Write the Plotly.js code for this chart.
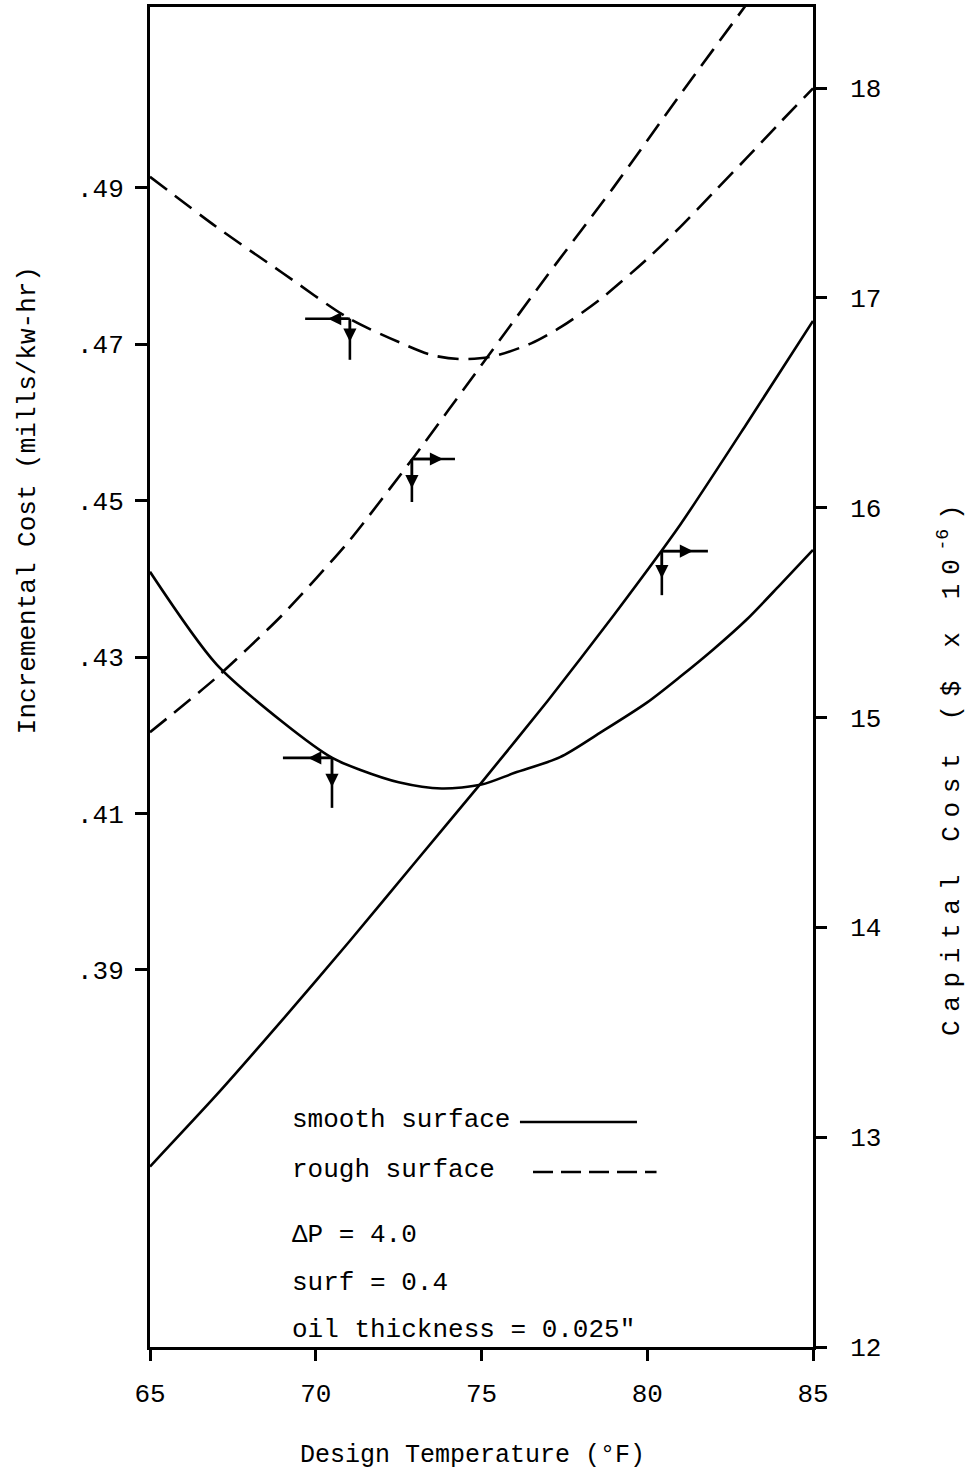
<!DOCTYPE html>
<html><head><meta charset="utf-8">
<script src="https://cdn.plot.ly/plotly-3.0.1.min.js"></script>
<style>html,body{margin:0;padding:0;background:#fff}</style>
</head><body><div id="chart" style="width:971px;height:1473px"></div>
<script>
// ---- data ----
const tempRoughU   = [65, 67, 69, 71, 72.54, 73.5, 74.35, 75.3, 76.5, 77.4, 78.57, 80, 81, 82, 83, 84, 85];
const incCostRough = [0.4914, 0.4850, 0.4791, 0.4733, 0.4702, 0.4686, 0.4681, 0.4684, 0.4701, 0.4722, 0.4757, 0.4809, 0.4850, 0.4894, 0.4938, 0.4983, 0.5027];

const tempSmoothU   = [65, 67, 69, 70.5, 71.33, 72.5, 73.8, 75, 76, 77.37, 78.57, 80, 81, 82, 83, 84, 85];
const incCostSmooth = [0.4409, 0.4291, 0.4217, 0.4171, 0.4156, 0.4140, 0.4132, 0.4137, 0.4152, 0.4172, 0.4203, 0.4242, 0.4275, 0.4310, 0.4348, 0.4392, 0.4437];

const tempRoughLine = [65, 67, 69, 71, 73, 75, 77, 79, 81, 83, 84];
const capCostRough  = [14.93, 15.19, 15.49, 15.84, 16.25, 16.68, 17.11, 17.53, 17.97, 18.40, 18.62];

const tempSmoothLine = [65, 67, 69, 71, 73, 75, 77, 79, 81, 83, 85];
const capCostSmooth  = [12.86, 13.20, 13.56, 13.93, 14.31, 14.69, 15.08, 15.49, 15.92, 16.40, 16.89];

const xTicks     = [65, 70, 75, 80, 85];
const leftTicks  = [0.39, 0.41, 0.43, 0.45, 0.47, 0.49];
const leftLabels = ['.39', '.41', '.43', '.45', '.47', '.49'];
const rightTicks = [12, 13, 14, 15, 16, 17, 18];

const legendNotes = ['smooth surface', 'rough surface', '\u0394P = 4.0', 'surf = 0.4', 'oil thickness = 0.025"'];
const xTitle = 'Design Temperature (\u00b0F)';
const leftTitle = 'Incremental Cost (mills/kw-hr)';
const rightTitleBase = 'Capital Cost ($ x 10';
const rightTitleExp = '-6';

// ---- styles ----
const MONO = 'Liberation Mono, Courier New, monospace';
const DASH = '21px,10px';
const LW = 2.6;
const GAP = '\u2004'; // letter spacing used in the typed right-hand title

const traces = [
  {x: tempRoughU, y: incCostRough, yaxis: 'y', mode: 'lines',
   line: {color: '#000', width: LW, dash: DASH, shape: 'spline', smoothing: 0.8}},
  {x: tempSmoothU, y: incCostSmooth, yaxis: 'y', mode: 'lines',
   line: {color: '#000', width: LW, shape: 'spline', smoothing: 0.8}},
  {x: tempRoughLine, y: capCostRough, yaxis: 'y2', mode: 'lines',
   line: {color: '#000', width: LW, dash: DASH, shape: 'spline', smoothing: 0.6}},
  {x: tempSmoothLine, y: capCostSmooth, yaxis: 'y2', mode: 'lines',
   line: {color: '#000', width: LW, shape: 'spline', smoothing: 0.6}}
];

// L-shaped pointer arrows: corner, horizontal end, horizontal head, vertical end, vertical head
const pointers = [
  {yref: 'y',  cx: 71.03, cy: 0.47325, hx: 69.68, hh: 70.37, vy: 0.4680, vh: 0.4703},
  {yref: 'y2', cx: 72.90, cy: 16.232,  hx: 74.20, hh: 73.84, vy: 16.027, vh: 16.093},
  {yref: 'y2', cx: 80.44, cy: 15.793,  hx: 81.83, hh: 81.38, vy: 15.583, vh: 15.664},
  {yref: 'y',  cx: 70.49, cy: 0.41711, hx: 69.01, hh: 69.77, vy: 0.41072, vh: 0.4134}
];

const shapes = [];
const annotations = [];
pointers.forEach(p => {
  shapes.push({type: 'line', xref: 'x', yref: p.yref, x0: p.cx, x1: p.hx, y0: p.cy, y1: p.cy,
               line: {color: '#000', width: 2.6}});
  shapes.push({type: 'line', xref: 'x', yref: p.yref, x0: p.cx, x1: p.cx, y0: p.cy, y1: p.vy,
               line: {color: '#000', width: 2.6}});
  annotations.push({xref: 'x', yref: p.yref, axref: 'x', ayref: p.yref, x: p.hh, y: p.cy,
                    ax: p.cx, ay: p.cy, text: '', showarrow: true, arrowhead: 2, arrowsize: 1.1,
                    arrowwidth: 2.4, arrowcolor: '#000'});
  annotations.push({xref: 'x', yref: p.yref, axref: 'x', ayref: p.yref, x: p.cx, y: p.vh,
                    ax: p.cx, ay: p.cy, text: '', showarrow: true, arrowhead: 2, arrowsize: 1.1,
                    arrowwidth: 2.4, arrowcolor: '#000'});
});

// legend keys
shapes.push({type: 'line', xref: 'paper', yref: 'paper', x0: 0.5580, x1: 0.7345, y0: 0.1679, y1: 0.1679,
             line: {color: '#000', width: 2.4}});
shapes.push({type: 'line', xref: 'paper', yref: 'paper', x0: 0.5777, x1: 0.7640, y0: 0.1306, y1: 0.1306,
             line: {color: '#000', width: 2.4, dash: '20px,8px'}});

const noteY = [0.1694, 0.1321, 0.0836, 0.0478, 0.0127];
legendNotes.forEach((t, i) => {
  annotations.push({xref: 'paper', yref: 'paper', x: 0.2112, y: noteY[i], xanchor: 'left', yanchor: 'middle',
                    text: t, showarrow: false, font: {family: MONO, size: 26, color: '#000'}});
});

// axis titles
const rightTitle = rightTitleBase.split('').join(GAP) + GAP + '<sup>' + rightTitleExp + '</sup>' + GAP + ')';
annotations.push({xref: 'paper', yref: 'paper', x: 0.486, y: -0.0806, xanchor: 'center', yanchor: 'middle',
                  text: xTitle, showarrow: false, font: {family: MONO, size: 25, color: '#000'}});
annotations.push({xref: 'paper', yref: 'paper', x: -0.184, y: 0.632, xanchor: 'center', yanchor: 'middle',
                  textangle: -90, text: leftTitle, showarrow: false,
                  font: {family: MONO, size: 26, color: '#000'}});
annotations.push({xref: 'paper', yref: 'paper', x: 1.2066, y: 0.4306, xanchor: 'center', yanchor: 'middle',
                  textangle: -90, text: rightTitle, showarrow: false,
                  font: {family: MONO, size: 26, color: '#000'}});

const layout = {
  width: 971, height: 1473,
  margin: {l: 150, r: 158, t: 7, b: 126, pad: 0},
  paper_bgcolor: '#fff', plot_bgcolor: '#fff',
  showlegend: false,
  xaxis: {range: [65, 85], tickvals: xTicks, ticktext: xTicks.map(String),
          showline: true, mirror: true, linecolor: '#000', linewidth: 3,
          ticks: 'outside', ticklen: 11, tickwidth: 3, tickcolor: '#000',
          showgrid: false, zeroline: false, ticklabelstandoff: 10,
          tickfont: {family: MONO, size: 26, color: '#000'}},
  yaxis: {range: [0.3418, 0.5131], tickvals: leftTicks, ticktext: leftLabels,
          showline: true, linecolor: '#000', linewidth: 3,
          ticks: 'outside', ticklen: 12, tickwidth: 3, tickcolor: '#000',
          showgrid: false, zeroline: false, ticklabelstandoff: 6,
          tickfont: {family: MONO, size: 26, color: '#000'}},
  yaxis2: {range: [12, 18.386], tickvals: rightTicks, ticktext: rightTicks.map(String),
           overlaying: 'y', side: 'right', anchor: 'x',
           showline: true, linecolor: '#000', linewidth: 3,
           ticks: 'outside', ticklen: 11, tickwidth: 3, tickcolor: '#000',
           showgrid: false, zeroline: false, ticklabelstandoff: 18,
           tickfont: {family: MONO, size: 26, color: '#000'}},
  shapes: shapes,
  annotations: annotations
};

Plotly.newPlot('chart', traces, layout, {staticPlot: true, displayModeBar: false});
</script>
</body></html>
